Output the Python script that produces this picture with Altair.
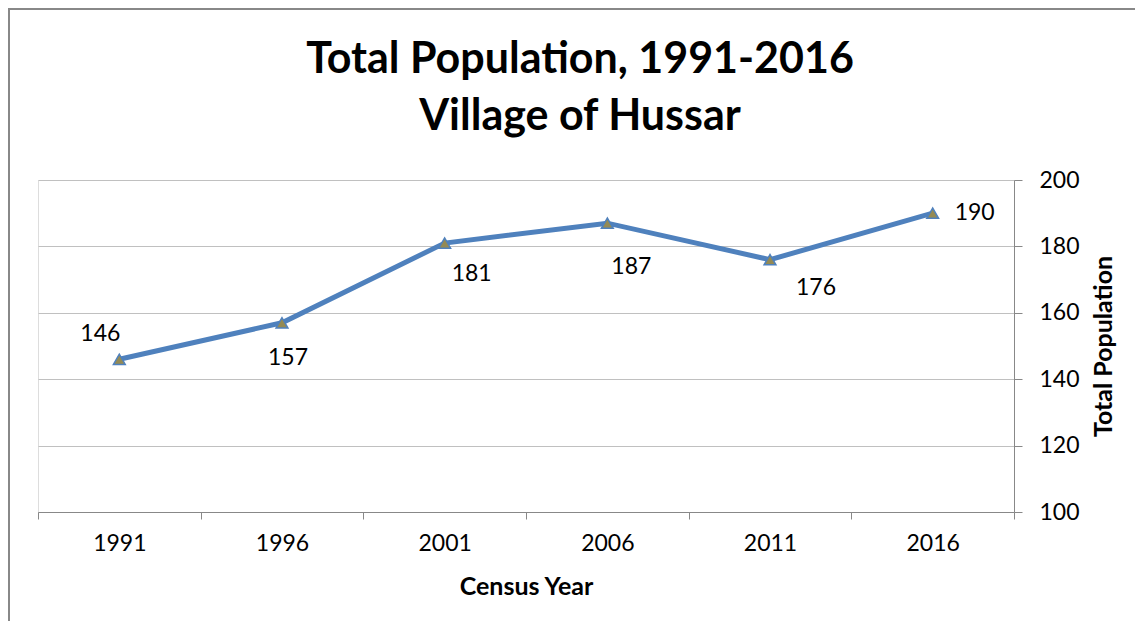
import altair as alt
import pandas as pd

years = ["1991", "1996", "2001", "2006", "2011", "2016"]
population = [146, 157, 181, 187, 176, 190]
y_ticks = [100, 120, 140, 160, 180, 200]
title_lines = ["Total Population, 1991-2016", "Village of Hussar"]

df = pd.DataFrame({"year": years, "pop": population})

FONT = "Lato"
W, H = 976, 332

x_enc = alt.X("year:O", sort=years,
              scale=alt.Scale(type="band", paddingInner=0, paddingOuter=0),
              axis=alt.Axis(title="Census Year", tickBand="extent", grid=False,
                            labelAngle=0, labelFontSize=23, labelPadding=13,
                            titleFontSize=25, titleFontWeight="bold", titlePadding=19,
                            tickSize=7, domainColor="#888888", tickColor="#888888",
                            labelColor="#000000", titleColor="#000000",
                            labelFont=FONT, titleFont=FONT))
y_enc = alt.Y("pop:Q", scale=alt.Scale(domain=[100, 200], nice=False, zero=False),
              axis=alt.Axis(title="Total Population", orient="right", values=y_ticks,
                            labelFontSize=23, labelPadding=17, tickSize=8,
                            titleFontSize=25, titleFontWeight="bold",
                            titleAngle=-90, titleX=89, titleY=H / 2,
                            titleAlign="center", titleBaseline="middle",
                            gridColor="#c0c0c0", domainColor="#888888",
                            tickColor="#888888", labelColor="#000000",
                            titleColor="#000000", labelFont=FONT, titleFont=FONT))

base = alt.Chart(df)
line = base.mark_line(color="#4F81BD", strokeWidth=5).encode(x=x_enc, y=y_enc)
pts = base.mark_point(shape="triangle-up", size=140, filled=True, fill="#948A54",
                      stroke="#4F81BD", strokeWidth=1.5, opacity=1).encode(
    x=alt.X("year:O", sort=years), y="pop:Q")

offsets = {"1991": (-19, -25), "1996": (6, 35), "2001": (27, 31),
           "2006": (24, 44), "2011": (46, 28), "2016": (42, 0)}
labels = []
for yr, (dx, dy) in offsets.items():
    labels.append(base.transform_filter(alt.datum.year == yr).mark_text(
        font=FONT, fontSize=23, color="#000000", dx=dx, dy=dy,
        align="center", baseline="middle").encode(
        x=alt.X("year:O", sort=years), y="pop:Q", text="pop:Q"))

one = alt.Data(values=[{"a": 1}])
border = alt.Chart(one).mark_rect(
    fill=None, stroke="#888888", strokeWidth=2).encode(
    x=alt.value(-29), y=alt.value(-171), x2=alt.value(1300), y2=alt.value(800))

titles = []
for txt, yb in zip(title_lines, [-107, -50]):
    titles.append(alt.Chart(one).mark_text(
        text=txt, font=FONT, fontSize=43, fontWeight="bold", color="#000000",
        align="center", baseline="alphabetic").encode(
        x=alt.value(542), y=alt.value(yb)))

chart = alt.layer(border, line, pts, *labels, *titles).properties(
    width=W, height=H,
    autosize=alt.AutoSizeParams(type="none"),
    padding={"left": 30, "top": 172, "right": 121, "bottom": 109},
).configure_view(stroke=None).configure(background="white")

chart.save("out.html", embed_options={"renderer": "svg", "actions": False})
